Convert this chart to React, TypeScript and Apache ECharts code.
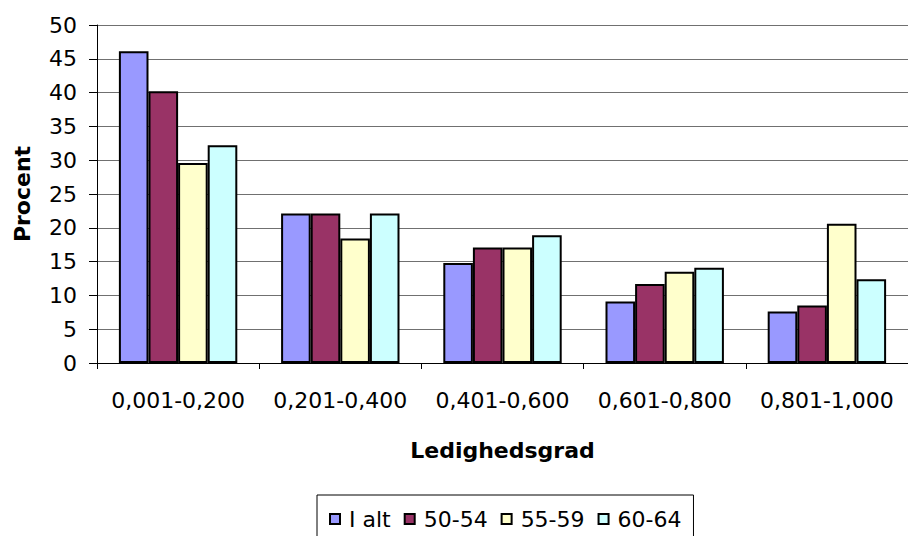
import React, { useEffect, useRef } from "react";
import * as echarts from "echarts";

const categories = ["0,001-0,200", "0,201-0,400", "0,401-0,600", "0,601-0,800", "0,801-1,000"];
const seriesNames = ["I alt", "50-54", "55-59", "60-64"];
const iAlt = [46.1, 22.1, 14.8, 9.1, 7.6];
const s5054 = [40.2, 22.1, 17.1, 11.7, 8.5];
const s5559 = [29.6, 18.4, 17.1, 13.5, 20.6];
const s6064 = [32.2, 22.1, 18.9, 14.1, 12.4];
const colors = ["#9999FF", "#993366", "#FFFFCC", "#CCFFFF"];
const yTicks = { min: 0, max: 50, interval: 5 };

const FONT = "DejaVu Sans";

export default function App() {
  const ref = useRef<HTMLDivElement>(null);
  useEffect(() => {
    if (!ref.current) return;
    const chart = echarts.init(ref.current, undefined, { renderer: "svg" });
    const data = [iAlt, s5054, s5559, s6064];
    chart.setOption({
      animation: false,
      backgroundColor: "#ffffff",
      textStyle: { fontFamily: FONT },
      grid: { left: 97, top: 25, width: 821, height: 338, containLabel: false },
      legend: {
        left: 317,
        top: 495,
        orient: "horizontal",
        data: seriesNames,
        icon: "rect",
        itemWidth: 10,
        itemHeight: 10,
        itemGap: 13,
        padding: [13, 12, 12, 12],
        borderColor: "#000",
        borderWidth: 1,
        textStyle: { fontFamily: FONT, fontSize: 22, color: "#000", padding: [0, 0, 0, 4] },
      },
      xAxis: {
        type: "category",
        data: categories,
        name: "Ledighedsgrad",
        nameLocation: "middle",
        nameGap: 76,
        nameTextStyle: { fontFamily: FONT, fontSize: 22, fontWeight: "bold", color: "#000" },
        axisLine: { show: true, lineStyle: { color: "#000", width: 1 } },
        axisTick: { show: true, alignWithLabel: false, length: 6, lineStyle: { color: "#000" } },
        axisLabel: { fontFamily: FONT, fontSize: 22, color: "#000", margin: 26, interval: 0 },
        splitLine: { show: false },
      },
      yAxis: {
        type: "value",
        min: yTicks.min,
        max: yTicks.max,
        interval: yTicks.interval,
        name: "Procent",
        nameLocation: "middle",
        nameGap: 64,
        nameRotate: 90,
        nameTextStyle: { fontFamily: FONT, fontSize: 22, fontWeight: "bold", color: "#000" },
        axisLine: { show: true, lineStyle: { color: "#000", width: 1 } },
        axisTick: { show: true, length: 8, lineStyle: { color: "#000" } },
        axisLabel: { fontFamily: FONT, fontSize: 22, color: "#000", margin: 20 },
        splitLine: { show: true, lineStyle: { color: "#707070", width: 1 } },
      },
      series: seriesNames.map((name, i) => ({
        name,
        type: "bar",
        data: data[i],
        barGap: "0%",
        barCategoryGap: "27%",
        itemStyle: { color: colors[i], borderColor: "#000", borderWidth: 2 },
      })),
    });
    return () => chart.dispose();
  }, []);
  return (
    <div
      ref={ref}
      style={{ position: "fixed", left: 0, top: 0, width: 908, height: 536, overflow: "hidden" }}
    />
  );
}
